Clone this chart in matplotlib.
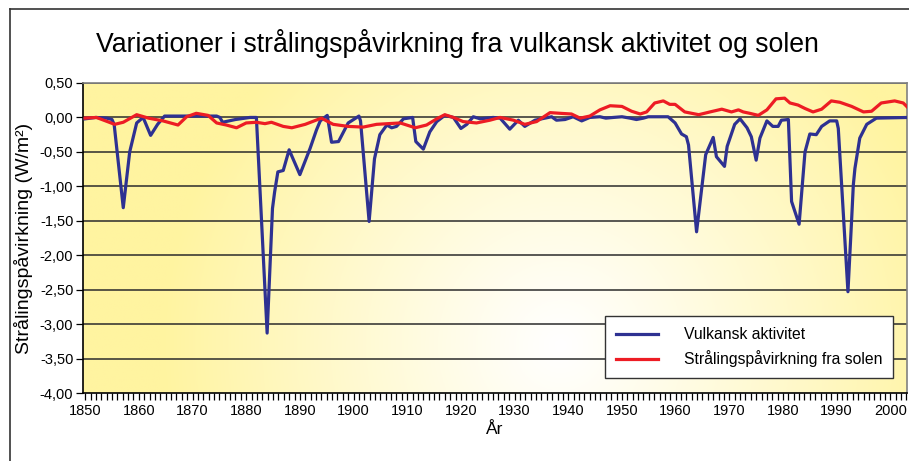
import numpy as np
import matplotlib
matplotlib.use("Agg")
import matplotlib.pyplot as plt
from matplotlib.ticker import MultipleLocator, FuncFormatter
from matplotlib.lines import Line2D

plt.rcParams["font.family"] = ["Liberation Sans", "DejaVu Sans"]

# Vulkansk aktivitet (W/m2)
volc_years = [1850.0, 1852.0, 1854.0, 1855.0, 1855.4, 1857.1, 1858.3, 1859.6, 1860.8, 1862.2,
              1863.5, 1864.8, 1874.5, 1875.1, 1875.6, 1878.0, 1880.7, 1881.9, 1883.9, 1884.9,
              1885.3, 1885.9, 1886.9, 1888.0, 1890.0, 1891.9, 1893.1, 1893.8, 1895.1, 1895.9,
              1897.2, 1899.0, 1901.0, 1901.3, 1902.9, 1903.9, 1904.9, 1906.2, 1907.1, 1908.0,
              1909.3, 1911.0, 1911.6, 1913.0, 1914.2, 1915.5, 1917.0, 1918.6, 1920.0, 1921.1,
              1922.3, 1923.6, 1924.8, 1926.0, 1927.3, 1929.1, 1930.7, 1931.9, 1933.8, 1936.9,
              1937.8, 1939.4, 1940.9, 1942.5, 1944.0, 1945.9, 1947.0, 1948.4, 1950.0, 1951.5,
              1952.7, 1954.0, 1954.9, 1958.6, 1959.9, 1961.1, 1962.0, 1962.4, 1963.9, 1965.6,
              1967.0, 1967.6, 1969.1, 1969.6, 1971.0, 1972.0, 1973.3, 1974.1, 1975.0, 1975.7,
              1977.0, 1978.1, 1979.1, 1979.7, 1981.0, 1981.6, 1983.0, 1984.1, 1985.0, 1986.2,
              1987.2, 1988.7, 1990.0, 1990.3, 1992.1, 1992.8, 1993.1, 1993.4, 1994.3, 1995.6,
              1997.4, 2003.5]
volc_vals = [-0.02, 0.0, -0.01, -0.03, -0.10, -1.31, -0.50, -0.08, 0.0, -0.26,
             -0.10, 0.02, 0.02, 0.0, -0.07, -0.03, 0.0, 0.0, -3.13, -1.32,
             -1.08, -0.79, -0.77, -0.47, -0.83, -0.45, -0.18, -0.05, 0.03, -0.36,
             -0.35, -0.08, 0.02, -0.05, -1.51, -0.60, -0.25, -0.11, -0.15, -0.13,
             -0.02, 0.0, -0.35, -0.46, -0.21, -0.06, 0.03, 0.0, -0.16, -0.10,
             0.01, -0.02, -0.01, 0.0, -0.01, -0.17, -0.04, -0.13, -0.04, 0.01,
             -0.04, -0.03, 0.01, -0.05, 0.0, 0.01, -0.01, 0.0, 0.01, -0.01,
             -0.03, -0.01, 0.01, 0.01, -0.08, -0.24, -0.28, -0.40, -1.66, -0.54,
             -0.29, -0.57, -0.71, -0.42, -0.10, -0.02, -0.15, -0.28, -0.62, -0.30,
             -0.05, -0.13, -0.13, -0.04, -0.03, -1.22, -1.55, -0.50, -0.24, -0.25,
             -0.13, -0.05, -0.05, -0.16, -2.53, -1.46, -0.98, -0.74, -0.30, -0.10,
             -0.01, 0.0]

# Strålingspåvirkning fra solen (W/m2)
sun_years = [1850.0, 1852.1, 1855.5, 1857.1, 1859.6, 1861.8, 1864.5, 1867.3, 1868.9, 1870.7,
             1872.9, 1874.5, 1876.3, 1878.2, 1880.0, 1881.9, 1883.5, 1884.7, 1886.9, 1888.5,
             1891.0, 1894.0, 1896.2, 1899.0, 1901.8, 1904.3, 1908.7, 1911.5, 1913.6, 1915.5,
             1917.0, 1918.6, 1920.4, 1922.9, 1925.4, 1927.3, 1929.8, 1931.9, 1934.1, 1936.6,
             1938.5, 1940.6, 1942.2, 1944.0, 1945.9, 1947.8, 1950.0, 1951.8, 1953.4, 1954.6,
             1956.1, 1957.7, 1958.9, 1959.9, 1961.7, 1964.3, 1966.4, 1968.6, 1970.4, 1971.7,
             1972.6, 1973.8, 1975.4, 1977.0, 1978.7, 1980.3, 1981.3, 1982.8, 1984.1, 1985.6,
             1987.2, 1989.0, 1990.6, 1992.8, 1995.0, 1996.5, 1998.3, 2000.8, 2002.4, 2003.3]
sun_vals = [-0.01, 0.0, -0.10, -0.07, 0.04, -0.01, -0.05, -0.11, 0.01, 0.06,
            0.03, -0.08, -0.11, -0.15, -0.08, -0.07, -0.09, -0.07, -0.13, -0.15,
            -0.10, -0.01, -0.10, -0.13, -0.14, -0.10, -0.08, -0.15, -0.11, -0.02,
            0.04, 0.0, -0.06, -0.08, -0.04, 0.0, -0.04, -0.10, -0.06, 0.07,
            0.06, 0.05, -0.01, 0.02, 0.11, 0.17, 0.16, 0.09, 0.05, 0.08,
            0.21, 0.24, 0.19, 0.19, 0.08, 0.04, 0.08, 0.12, 0.08, 0.11,
            0.08, 0.06, 0.03, 0.11, 0.27, 0.28, 0.21, 0.18, 0.13, 0.08,
            0.12, 0.24, 0.22, 0.16, 0.08, 0.09, 0.21, 0.24, 0.21, 0.14]

fig = plt.figure(figsize=(9.09, 4.61), dpi=100)
ax = fig.add_axes([83 / 909, 1 - 393 / 461, 824 / 909, 310 / 461])

# yellow-white gradient background of the plot area
gx, gy = np.meshgrid(np.linspace(0, 1, 300), np.linspace(0, 1, 150))
dist = np.hypot((gx - 0.58) * 824, (gy - 0.15) * 310)
t = np.clip(dist / 400, 0, 1) ** 1.1
yellow = np.array([255, 244, 160]) / 255
white = np.array([255, 255, 255]) / 255
img = white * (1 - t[..., None]) + yellow * t[..., None]
ax.imshow(img, extent=[0, 1, 0, 1], transform=ax.transAxes, origin="lower",
          aspect="auto", zorder=0)

for yv in np.arange(-3.5, 0.51, 0.5):
    ax.axhline(yv, color="#2b2b2b", lw=1.1, zorder=1)

ax.plot(volc_years, volc_vals, color="#2e3192", lw=2.3, label="Vulkansk aktivitet", zorder=3)
ax.plot(sun_years, sun_vals, color="#ed1c24", lw=2.3, label="Strålingspåvirkning fra solen", zorder=3)

ax.set_xlim(1849.6, 2003.1)
ax.set_ylim(-4.0, 0.5)
ax.yaxis.set_major_locator(MultipleLocator(0.5))
ax.yaxis.set_major_formatter(FuncFormatter(lambda v, p: f"{np.round(v, 2) + 0.0:.2f}".replace(".", ",")))
ax.xaxis.set_major_locator(MultipleLocator(10))
ax.xaxis.set_minor_locator(MultipleLocator(1))
ax.tick_params(axis="x", which="both", direction="out", length=5, width=0.9, labelsize=10.5, pad=3)
ax.tick_params(axis="y", direction="out", length=5, width=0.9, labelsize=10.5, pad=2)

for s in ["top", "right"]:
    ax.spines[s].set_color("#808080")
    ax.spines[s].set_linewidth(1.2)
for s in ["left", "bottom"]:
    ax.spines[s].set_color("black")
    ax.spines[s].set_linewidth(1.2)

ax.set_xlabel("År", fontsize=12.5, labelpad=3)
ax.set_ylabel("Strålingspåvirkning (W/m²)", fontsize=14, labelpad=5)
fig.text(457 / 909, 1 - 43 / 461, "Variationer i strålingspåvirkning fra vulkansk aktivitet og solen",
         ha="center", va="center", fontsize=19.2)

leg = ax.legend(loc="lower right", bbox_to_anchor=(0.983, 0.048), borderaxespad=0,
                fontsize=11.3, frameon=True, fancybox=False, framealpha=1,
                edgecolor="#333333", handlelength=2.7, handletextpad=1.6,
                borderpad=0.7, labelspacing=0.5)
leg.get_frame().set_linewidth(1.0)

# outer frame of the figure
fig.add_artist(Line2D([10 / 909, 10 / 909], [0, 1 - 9 / 461], color="#333333", lw=1.2,
                      transform=fig.transFigure))
fig.add_artist(Line2D([10 / 909, 1], [1 - 9 / 461, 1 - 9 / 461], color="#333333", lw=1.2,
                      transform=fig.transFigure))

fig.savefig("out.png", dpi=100)
